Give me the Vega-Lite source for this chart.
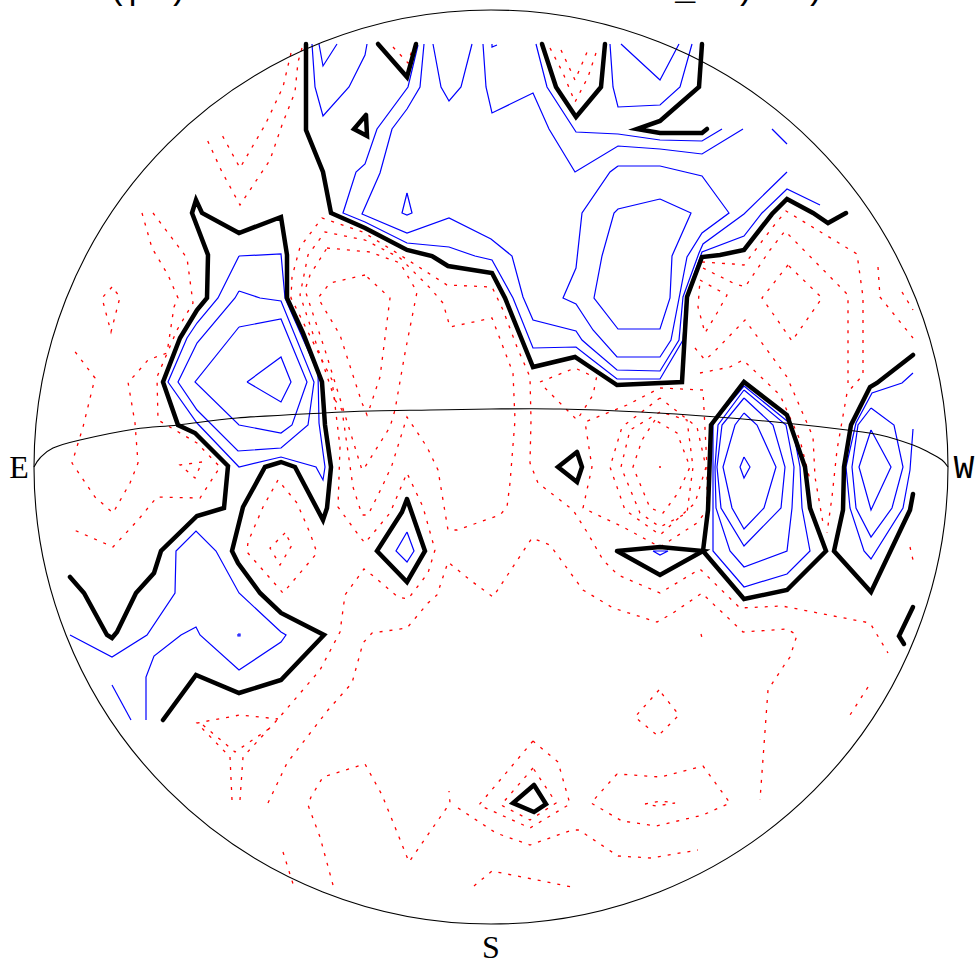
{"$schema":"https://vega.github.io/schema/vega-lite/v6.json","width":975,"height":962,"padding":0,"autosize":{"type":"none"},"background":"white","config":{"view":{"stroke":null}},
"datasets":{
"labels":[{"t":"E","x":19,"y":478},{"t":"S","x":491,"y":958}],
"monoLabels":[{"t":"W","x":964,"y":478},{"t":"(p","x":128,"y":-1},{"t":")","x":178,"y":-1},{"t":"/_","x":675,"y":-1},{"t":")","x":745,"y":-1},{"t":")","x":815,"y":-1}],
"centre":[{"x":491,"y":467}],
"arc":[{"x":34,"y":467},{"x":40,"y":458},{"x":53,"y":448},{"x":80,"y":440},{"x":135,"y":429},{"x":178,"y":425},{"x":237,"y":418},{"x":323,"y":413},{"x":370,"y":411},{"x":430,"y":410},{"x":491,"y":409},{"x":560,"y":409},{"x":640,"y":412},{"x":717,"y":417},{"x":785,"y":423},{"x":847,"y":430},{"x":880,"y":435},{"x":913,"y":445},{"x":930,"y":453},{"x":942,"y":460},{"x":948,"y":467}],
"zero":[
{"g":1,"x":306,"y":44},{"g":1,"x":306,"y":130},{"g":1,"x":323,"y":172},{"g":1,"x":331,"y":213},{"g":1,"x":365,"y":228},{"g":1,"x":407,"y":250},{"g":1,"x":432,"y":256},{"g":1,"x":448,"y":266},{"g":1,"x":492,"y":273},{"g":1,"x":505,"y":298},{"g":1,"x":522,"y":340},{"g":1,"x":533,"y":367},{"g":1,"x":575,"y":357},{"g":1,"x":590,"y":367},{"g":1,"x":617,"y":385},{"g":1,"x":682,"y":382},{"g":1,"x":687,"y":297},{"g":1,"x":702,"y":257},{"g":1,"x":720,"y":255},{"g":1,"x":744,"y":250},{"g":1,"x":772,"y":214},{"g":1,"x":787,"y":199},{"g":1,"x":813,"y":213},{"g":1,"x":828,"y":223},{"g":1,"x":846,"y":213},
{"g":2,"x":378,"y":44},{"g":2,"x":407,"y":77},{"g":2,"x":416,"y":44},
{"g":3,"x":542,"y":44},{"g":3,"x":556,"y":87},{"g":3,"x":576,"y":117},{"g":3,"x":601,"y":87},{"g":3,"x":605,"y":44},
{"g":4,"x":702,"y":44},{"g":4,"x":699,"y":87},{"g":4,"x":660,"y":121},{"g":4,"x":637,"y":129},{"g":4,"x":660,"y":133},{"g":4,"x":702,"y":133},{"g":4,"x":707,"y":129},
{"g":5,"x":366,"y":115},{"g":5,"x":354,"y":129},{"g":5,"x":367,"y":136},{"g":5,"x":366,"y":115},
{"g":6,"x":70,"y":577},{"g":6,"x":84,"y":593},{"g":6,"x":107,"y":635},{"g":6,"x":112,"y":638},{"g":6,"x":117,"y":632},{"g":6,"x":136,"y":593},{"g":6,"x":154,"y":573},{"g":6,"x":161,"y":551},{"g":6,"x":197,"y":516},{"g":6,"x":224,"y":508},{"g":6,"x":228,"y":466},{"g":6,"x":195,"y":433},{"g":6,"x":178,"y":425},{"g":6,"x":163,"y":382},{"g":6,"x":180,"y":338},{"g":6,"x":197,"y":310},{"g":6,"x":207,"y":298},{"g":6,"x":208,"y":255},{"g":6,"x":192,"y":213},{"g":6,"x":196,"y":200},{"g":6,"x":202,"y":213},{"g":6,"x":239,"y":233},{"g":6,"x":281,"y":217},{"g":6,"x":287,"y":255},{"g":6,"x":287,"y":298},{"g":6,"x":303,"y":333},{"g":6,"x":322,"y":382},{"g":6,"x":325,"y":425},{"g":6,"x":331,"y":467},{"g":6,"x":327,"y":508},{"g":6,"x":323,"y":520},{"g":6,"x":295,"y":467},{"g":6,"x":281,"y":462},{"g":6,"x":265,"y":467},{"g":6,"x":243,"y":507},{"g":6,"x":232,"y":551},{"g":6,"x":238,"y":563},{"g":6,"x":260,"y":593},{"g":6,"x":281,"y":613},{"g":6,"x":324,"y":635},{"g":6,"x":281,"y":680},{"g":6,"x":239,"y":693},{"g":6,"x":196,"y":675},{"g":6,"x":163,"y":720},
{"g":7,"x":407,"y":499},{"g":7,"x":402,"y":512},{"g":7,"x":377,"y":551},{"g":7,"x":407,"y":582},{"g":7,"x":425,"y":551},{"g":7,"x":407,"y":499},
{"g":8,"x":577,"y":452},{"g":8,"x":558,"y":467},{"g":8,"x":577,"y":482},{"g":8,"x":582,"y":467},{"g":8,"x":577,"y":452},
{"g":9,"x":617,"y":551},{"g":9,"x":660,"y":547},{"g":9,"x":703,"y":551},{"g":9,"x":660,"y":575},{"g":9,"x":617,"y":551},
{"g":10,"x":703,"y":551},{"g":10,"x":708,"y":510},{"g":10,"x":711,"y":425},{"g":10,"x":744,"y":382},{"g":10,"x":787,"y":415},{"g":10,"x":805,"y":467},{"g":10,"x":810,"y":508},{"g":10,"x":826,"y":551},{"g":10,"x":787,"y":590},{"g":10,"x":744,"y":599},{"g":10,"x":703,"y":551},
{"g":11,"x":913,"y":355},{"g":11,"x":877,"y":383},{"g":11,"x":870,"y":387},{"g":11,"x":851,"y":425},{"g":11,"x":844,"y":467},{"g":11,"x":843,"y":510},{"g":11,"x":834,"y":551},{"g":11,"x":871,"y":592},{"g":11,"x":910,"y":510},{"g":11,"x":913,"y":494},
{"g":12,"x":913,"y":607},{"g":12,"x":899,"y":636},{"g":12,"x":904,"y":644},
{"g":13,"x":534,"y":785},{"g":13,"x":513,"y":803},{"g":13,"x":534,"y":812},{"g":13,"x":546,"y":804},{"g":13,"x":534,"y":785}
],
"pos":[
{"g":1,"x":312,"y":44},{"g":1,"x":315,"y":87},{"g":1,"x":323,"y":116},{"g":1,"x":349,"y":87},{"g":1,"x":365,"y":55},{"g":1,"x":367,"y":44},
{"g":2,"x":319,"y":44},{"g":2,"x":323,"y":66},{"g":2,"x":337,"y":44},
{"g":3,"x":418,"y":45},{"g":3,"x":408,"y":87},{"g":3,"x":377,"y":129},{"g":3,"x":365,"y":164},{"g":3,"x":356,"y":172},{"g":3,"x":343,"y":213},{"g":3,"x":365,"y":222},{"g":3,"x":407,"y":243},{"g":3,"x":449,"y":247},{"g":3,"x":475,"y":256},{"g":3,"x":492,"y":260},{"g":3,"x":513,"y":298},{"g":3,"x":533,"y":348},{"g":3,"x":576,"y":347},{"g":3,"x":590,"y":358},{"g":3,"x":617,"y":379},{"g":3,"x":660,"y":379},{"g":3,"x":683,"y":340},{"g":3,"x":686,"y":297},{"g":3,"x":702,"y":252},{"g":3,"x":744,"y":236},{"g":3,"x":762,"y":213},{"g":3,"x":787,"y":189},{"g":3,"x":820,"y":205},
{"g":4,"x":424,"y":44},{"g":4,"x":420,"y":87},{"g":4,"x":407,"y":109},{"g":4,"x":392,"y":129},{"g":4,"x":380,"y":173},{"g":4,"x":362,"y":214},{"g":4,"x":407,"y":233},{"g":4,"x":449,"y":218},{"g":4,"x":491,"y":239},{"g":4,"x":512,"y":256},{"g":4,"x":523,"y":297},{"g":4,"x":533,"y":320},{"g":4,"x":576,"y":331},{"g":4,"x":582,"y":340},{"g":4,"x":590,"y":347},{"g":4,"x":617,"y":370},{"g":4,"x":660,"y":371},{"g":4,"x":679,"y":340},{"g":4,"x":683,"y":297},{"g":4,"x":699,"y":253},{"g":4,"x":703,"y":244},{"g":4,"x":744,"y":214},{"g":4,"x":787,"y":172},
{"g":5,"x":618,"y":166},{"g":5,"x":660,"y":166},{"g":5,"x":702,"y":176},{"g":5,"x":729,"y":213},{"g":5,"x":702,"y":233},{"g":5,"x":687,"y":257},{"g":5,"x":671,"y":340},{"g":5,"x":660,"y":357},{"g":5,"x":617,"y":357},{"g":5,"x":593,"y":330},{"g":5,"x":576,"y":304},{"g":5,"x":563,"y":298},{"g":5,"x":576,"y":268},{"g":5,"x":582,"y":213},{"g":5,"x":610,"y":172},{"g":5,"x":618,"y":166},
{"g":6,"x":660,"y":199},{"g":6,"x":691,"y":213},{"g":6,"x":672,"y":256},{"g":6,"x":670,"y":298},{"g":6,"x":660,"y":329},{"g":6,"x":618,"y":329},{"g":6,"x":594,"y":298},{"g":6,"x":602,"y":256},{"g":6,"x":614,"y":213},{"g":6,"x":618,"y":209},{"g":6,"x":660,"y":199},
{"g":7,"x":433,"y":44},{"g":7,"x":441,"y":87},{"g":7,"x":449,"y":101},{"g":7,"x":461,"y":87},{"g":7,"x":472,"y":44},
{"g":8,"x":483,"y":44},{"g":8,"x":486,"y":87},{"g":8,"x":492,"y":113},{"g":8,"x":533,"y":93},{"g":8,"x":549,"y":129},{"g":8,"x":575,"y":172},{"g":8,"x":618,"y":146},{"g":8,"x":660,"y":149},{"g":8,"x":702,"y":154},{"g":8,"x":743,"y":129},
{"g":9,"x":536,"y":44},{"g":9,"x":547,"y":87},{"g":9,"x":576,"y":132},{"g":9,"x":618,"y":134},{"g":9,"x":660,"y":140},{"g":9,"x":702,"y":141},{"g":9,"x":722,"y":129},
{"g":10,"x":492,"y":44},{"g":10,"x":492,"y":47},{"g":10,"x":497,"y":45},
{"g":11,"x":610,"y":44},{"g":11,"x":613,"y":87},{"g":11,"x":618,"y":107},{"g":11,"x":660,"y":105},{"g":11,"x":680,"y":87},{"g":11,"x":692,"y":44},
{"g":12,"x":621,"y":44},{"g":12,"x":660,"y":80},{"g":12,"x":679,"y":44},
{"g":13,"x":772,"y":129},{"g":13,"x":787,"y":144},
{"g":14,"x":407,"y":193},{"g":14,"x":402,"y":213},{"g":14,"x":407,"y":215},{"g":14,"x":412,"y":213},{"g":14,"x":407,"y":193},
{"g":15,"x":239,"y":256},{"g":15,"x":281,"y":254},{"g":15,"x":285,"y":298},{"g":15,"x":318,"y":373},{"g":15,"x":319,"y":423},{"g":15,"x":325,"y":467},{"g":15,"x":323,"y":480},{"g":15,"x":316,"y":467},{"g":15,"x":281,"y":457},{"g":15,"x":239,"y":467},{"g":15,"x":197,"y":423},{"g":15,"x":168,"y":382},{"g":15,"x":187,"y":338},{"g":15,"x":197,"y":323},{"g":15,"x":218,"y":298},{"g":15,"x":239,"y":256},
{"g":16,"x":239,"y":291},{"g":16,"x":260,"y":298},{"g":16,"x":281,"y":301},{"g":16,"x":314,"y":382},{"g":16,"x":308,"y":425},{"g":16,"x":281,"y":448},{"g":16,"x":238,"y":451},{"g":16,"x":197,"y":410},{"g":16,"x":178,"y":382},{"g":16,"x":197,"y":343},{"g":16,"x":235,"y":298},{"g":16,"x":239,"y":291},
{"g":17,"x":239,"y":327},{"g":17,"x":281,"y":319},{"g":17,"x":307,"y":382},{"g":17,"x":292,"y":425},{"g":17,"x":281,"y":433},{"g":17,"x":239,"y":425},{"g":17,"x":195,"y":382},{"g":17,"x":239,"y":327},
{"g":18,"x":247,"y":382},{"g":18,"x":281,"y":357},{"g":18,"x":291,"y":382},{"g":18,"x":281,"y":402},{"g":18,"x":247,"y":382},
{"g":19,"x":70,"y":635},{"g":19,"x":112,"y":657},{"g":19,"x":147,"y":635},{"g":19,"x":175,"y":593},{"g":19,"x":176,"y":551},{"g":19,"x":196,"y":531},{"g":19,"x":216,"y":551},{"g":19,"x":239,"y":593},{"g":19,"x":281,"y":632},{"g":19,"x":286,"y":635},{"g":19,"x":281,"y":642},{"g":19,"x":239,"y":670},{"g":19,"x":200,"y":635},{"g":19,"x":196,"y":627},{"g":19,"x":181,"y":635},{"g":19,"x":154,"y":656},{"g":19,"x":146,"y":677},{"g":19,"x":146,"y":720},
{"g":20,"x":112,"y":685},{"g":20,"x":131,"y":720},
{"g":21,"x":238,"y":634},{"g":21,"x":240,"y":634},{"g":21,"x":240,"y":636},{"g":21,"x":238,"y":636},{"g":21,"x":238,"y":634},
{"g":22,"x":407,"y":532},{"g":22,"x":396,"y":551},{"g":22,"x":407,"y":562},{"g":22,"x":414,"y":551},{"g":22,"x":407,"y":532},
{"g":23,"x":653,"y":551},{"g":23,"x":668,"y":551},{"g":23,"x":660,"y":555},{"g":23,"x":653,"y":551},
{"g":24,"x":744,"y":386},{"g":24,"x":713,"y":423},{"g":24,"x":713,"y":467},{"g":24,"x":713,"y":551},{"g":24,"x":744,"y":587},{"g":24,"x":787,"y":574},{"g":24,"x":810,"y":551},{"g":24,"x":802,"y":508},{"g":24,"x":800,"y":467},{"g":24,"x":792,"y":425},{"g":24,"x":744,"y":386},
{"g":25,"x":744,"y":390},{"g":25,"x":718,"y":425},{"g":25,"x":715,"y":467},{"g":25,"x":716,"y":508},{"g":25,"x":730,"y":551},{"g":25,"x":744,"y":567},{"g":25,"x":787,"y":551},{"g":25,"x":792,"y":508},{"g":25,"x":794,"y":467},{"g":25,"x":786,"y":425},{"g":25,"x":744,"y":390},
{"g":26,"x":744,"y":398},{"g":26,"x":722,"y":425},{"g":26,"x":717,"y":467},{"g":26,"x":721,"y":508},{"g":26,"x":744,"y":546},{"g":26,"x":781,"y":508},{"g":26,"x":785,"y":467},{"g":26,"x":773,"y":425},{"g":26,"x":744,"y":398},
{"g":27,"x":744,"y":413},{"g":27,"x":735,"y":425},{"g":27,"x":723,"y":467},{"g":27,"x":732,"y":508},{"g":27,"x":744,"y":529},{"g":27,"x":764,"y":508},{"g":27,"x":776,"y":467},{"g":27,"x":757,"y":425},{"g":27,"x":744,"y":413},
{"g":28,"x":744,"y":457},{"g":28,"x":740,"y":467},{"g":28,"x":744,"y":478},{"g":28,"x":750,"y":467},{"g":28,"x":744,"y":457},
{"g":29,"x":913,"y":373},{"g":29,"x":902,"y":383},{"g":29,"x":872,"y":393},{"g":29,"x":856,"y":423},{"g":29,"x":846,"y":467},{"g":29,"x":850,"y":508},{"g":29,"x":864,"y":551},{"g":29,"x":871,"y":559},{"g":29,"x":903,"y":508},{"g":29,"x":910,"y":470},{"g":29,"x":913,"y":429},
{"g":30,"x":871,"y":408},{"g":30,"x":894,"y":425},{"g":30,"x":903,"y":467},{"g":30,"x":892,"y":508},{"g":30,"x":871,"y":537},{"g":30,"x":856,"y":508},{"g":30,"x":852,"y":467},{"g":30,"x":858,"y":425},{"g":30,"x":871,"y":408},
{"g":31,"x":871,"y":430},{"g":31,"x":891,"y":467},{"g":31,"x":871,"y":510},{"g":31,"x":859,"y":467},{"g":31,"x":871,"y":430}
],
"neg":[
{"g":1,"x":302,"y":48},{"g":1,"x":298,"y":62},{"g":1,"x":295,"y":92},{"g":1,"x":282,"y":125},{"g":1,"x":270,"y":160},{"g":1,"x":240,"y":205},{"g":1,"x":222,"y":172},{"g":1,"x":205,"y":135},
{"g":2,"x":291,"y":53},{"g":2,"x":283,"y":87},{"g":2,"x":265,"y":125},{"g":2,"x":240,"y":168},{"g":2,"x":222,"y":135},
{"g":3,"x":393,"y":47},{"g":3,"x":408,"y":63},{"g":3,"x":413,"y":47},
{"g":4,"x":550,"y":48},{"g":4,"x":563,"y":73},{"g":4,"x":575,"y":102},{"g":4,"x":588,"y":77},{"g":4,"x":597,"y":50},
{"g":5,"x":561,"y":50},{"g":5,"x":575,"y":80},{"g":5,"x":588,"y":50},
{"g":6,"x":112,"y":287},{"g":6,"x":102,"y":298},{"g":6,"x":111,"y":332},{"g":6,"x":120,"y":297},{"g":6,"x":112,"y":287},
{"g":7,"x":142,"y":213},{"g":7,"x":152,"y":248},{"g":7,"x":168,"y":275},{"g":7,"x":178,"y":298},{"g":7,"x":174,"y":307},{"g":7,"x":167,"y":353},{"g":7,"x":148,"y":360},{"g":7,"x":135,"y":375},{"g":7,"x":128,"y":382},{"g":7,"x":135,"y":423},{"g":7,"x":138,"y":463},{"g":7,"x":130,"y":483},{"g":7,"x":113,"y":513},{"g":7,"x":95,"y":497},{"g":7,"x":72,"y":463},{"g":7,"x":83,"y":427},{"g":7,"x":95,"y":378},{"g":7,"x":73,"y":349},
{"g":8,"x":153,"y":213},{"g":8,"x":187,"y":258},{"g":8,"x":193,"y":303},{"g":8,"x":177,"y":330},{"g":8,"x":157,"y":377},{"g":8,"x":158,"y":420},{"g":8,"x":197,"y":443},{"g":8,"x":220,"y":467},{"g":8,"x":200,"y":498},{"g":8,"x":157,"y":497},{"g":8,"x":138,"y":520},{"g":8,"x":113,"y":547},{"g":8,"x":74,"y":530},
{"g":9,"x":202,"y":462},{"g":9,"x":180,"y":465},{"g":9,"x":195,"y":478},{"g":9,"x":202,"y":462},
{"g":10,"x":240,"y":800},{"g":10,"x":243,"y":757},{"g":10,"x":278,"y":719},{"g":10,"x":320,"y":670},{"g":10,"x":340,"y":632},{"g":10,"x":345,"y":595},{"g":10,"x":364,"y":569},{"g":10,"x":372,"y":575},{"g":10,"x":398,"y":597},{"g":10,"x":408,"y":599},{"g":10,"x":428,"y":573},{"g":10,"x":435,"y":550},{"g":10,"x":423,"y":507},{"g":10,"x":407,"y":473},{"g":10,"x":390,"y":513},{"g":10,"x":365,"y":543},{"g":10,"x":360,"y":537},{"g":10,"x":338,"y":507},{"g":10,"x":340,"y":447},{"g":10,"x":332,"y":380},{"g":10,"x":291,"y":298},{"g":10,"x":292,"y":277},{"g":10,"x":300,"y":247},{"g":10,"x":322,"y":218},{"g":10,"x":363,"y":232},{"g":10,"x":397,"y":253},{"g":10,"x":447,"y":285},{"g":10,"x":492,"y":287},{"g":10,"x":503,"y":310},{"g":10,"x":517,"y":347},{"g":10,"x":530,"y":377},{"g":10,"x":531,"y":420},{"g":10,"x":530,"y":463},{"g":10,"x":538,"y":483},{"g":10,"x":573,"y":510},{"g":10,"x":587,"y":532},{"g":10,"x":603,"y":560},{"g":10,"x":618,"y":575},{"g":10,"x":660,"y":593},{"g":10,"x":700,"y":569},{"g":10,"x":740,"y":608},{"g":10,"x":782,"y":606},{"g":10,"x":870,"y":623},{"g":10,"x":888,"y":653},
{"g":11,"x":232,"y":800},{"g":11,"x":230,"y":757},{"g":11,"x":197,"y":723},{"g":11,"x":240,"y":715},{"g":11,"x":278,"y":719},
{"g":12,"x":203,"y":725},{"g":12,"x":235,"y":752},{"g":12,"x":273,"y":726},
{"g":13,"x":268,"y":803},{"g":13,"x":287,"y":763},{"g":13,"x":328,"y":710},{"g":13,"x":352,"y":683},{"g":13,"x":363,"y":643},{"g":13,"x":372,"y":633},{"g":13,"x":407,"y":628},{"g":13,"x":428,"y":603},{"g":13,"x":437,"y":595},{"g":13,"x":448,"y":562},{"g":13,"x":470,"y":580},{"g":13,"x":493,"y":597},{"g":13,"x":532,"y":538},{"g":13,"x":550,"y":545},{"g":13,"x":583,"y":590},{"g":13,"x":613,"y":608},{"g":13,"x":657,"y":622},{"g":13,"x":673,"y":613},{"g":13,"x":702,"y":593},{"g":13,"x":708,"y":599},{"g":13,"x":743,"y":632},{"g":13,"x":787,"y":629},{"g":13,"x":797,"y":635},{"g":13,"x":790,"y":657},{"g":13,"x":783,"y":667},{"g":13,"x":768,"y":690},{"g":13,"x":760,"y":800},
{"g":14,"x":335,"y":400},{"g":14,"x":342,"y":410},{"g":14,"x":353,"y":487},{"g":14,"x":362,"y":515},{"g":14,"x":368,"y":515},{"g":14,"x":382,"y":487},{"g":14,"x":392,"y":465},{"g":14,"x":407,"y":417},{"g":14,"x":427,"y":447},{"g":14,"x":438,"y":470},{"g":14,"x":448,"y":530},{"g":14,"x":457,"y":530},{"g":14,"x":500,"y":515},{"g":14,"x":507,"y":507},{"g":14,"x":510,"y":483},{"g":14,"x":515,"y":420},{"g":14,"x":513,"y":373},{"g":14,"x":492,"y":318},{"g":14,"x":450,"y":327},{"g":14,"x":443,"y":303},{"g":14,"x":430,"y":288},{"g":14,"x":400,"y":258},{"g":14,"x":365,"y":240},{"g":14,"x":325,"y":232},{"g":14,"x":308,"y":255},{"g":14,"x":300,"y":295},{"g":14,"x":335,"y":400},
{"g":15,"x":365,"y":275},{"g":15,"x":330,"y":283},{"g":15,"x":318,"y":298},{"g":15,"x":340,"y":335},{"g":15,"x":348,"y":360},{"g":15,"x":362,"y":403},{"g":15,"x":367,"y":415},{"g":15,"x":370,"y":407},{"g":15,"x":380,"y":377},{"g":15,"x":390,"y":298},{"g":15,"x":365,"y":275},
{"g":16,"x":327,"y":248},{"g":16,"x":370,"y":252},{"g":16,"x":400,"y":263},{"g":16,"x":417,"y":292},{"g":16,"x":405,"y":353},{"g":16,"x":395,"y":410},{"g":16,"x":390,"y":427},{"g":16,"x":365,"y":467},{"g":16,"x":362,"y":470},{"g":16,"x":345,"y":415},{"g":16,"x":325,"y":350},{"g":16,"x":305,"y":290},{"g":16,"x":310,"y":275},{"g":16,"x":327,"y":248},
{"g":17,"x":285,"y":533},{"g":17,"x":270,"y":548},{"g":17,"x":280,"y":565},{"g":17,"x":292,"y":545},{"g":17,"x":285,"y":533},
{"g":18,"x":278,"y":480},{"g":18,"x":263,"y":507},{"g":18,"x":248,"y":542},{"g":18,"x":247,"y":552},{"g":18,"x":283,"y":593},{"g":18,"x":317,"y":553},{"g":18,"x":310,"y":533},{"g":18,"x":297,"y":503},{"g":18,"x":278,"y":480},
{"g":19,"x":702,"y":262},{"g":19,"x":733,"y":264},{"g":19,"x":744,"y":265},{"g":19,"x":772,"y":228},{"g":19,"x":786,"y":211},{"g":19,"x":857,"y":254},{"g":19,"x":863,"y":297},{"g":19,"x":863,"y":375},{"g":19,"x":847,"y":393},{"g":19,"x":837,"y":450},{"g":19,"x":832,"y":497},{"g":19,"x":827,"y":533},
{"g":20,"x":703,"y":268},{"g":20,"x":733,"y":283},{"g":20,"x":745,"y":287},{"g":20,"x":770,"y":250},{"g":20,"x":785,"y":231},{"g":20,"x":848,"y":295},{"g":20,"x":848,"y":383},
{"g":21,"x":700,"y":280},{"g":21,"x":727,"y":295},{"g":21,"x":717,"y":313},{"g":21,"x":705,"y":333},{"g":21,"x":698,"y":307},{"g":21,"x":700,"y":280},
{"g":22,"x":788,"y":265},{"g":22,"x":762,"y":298},{"g":22,"x":792,"y":341},{"g":22,"x":822,"y":298},{"g":22,"x":788,"y":265},
{"g":23,"x":695,"y":348},{"g":23,"x":705,"y":360},{"g":23,"x":713,"y":353},{"g":23,"x":745,"y":320},{"g":23,"x":787,"y":377},{"g":23,"x":797,"y":400},{"g":23,"x":813,"y":437},{"g":23,"x":815,"y":477},{"g":23,"x":823,"y":523},
{"g":24,"x":700,"y":373},{"g":24,"x":730,"y":367},{"g":24,"x":743,"y":360},{"g":24,"x":780,"y":395},{"g":24,"x":800,"y":440},{"g":24,"x":810,"y":480},
{"g":25,"x":878,"y":267},{"g":25,"x":880,"y":297},{"g":25,"x":913,"y":338},
{"g":26,"x":902,"y":292},{"g":26,"x":913,"y":310},
{"g":27,"x":703,"y":390},{"g":27,"x":660,"y":388},{"g":27,"x":627,"y":405},{"g":27,"x":585,"y":422},{"g":27,"x":592,"y":467},{"g":27,"x":583,"y":508},{"g":27,"x":623,"y":527},{"g":27,"x":660,"y":547},{"g":27,"x":697,"y":523},{"g":27,"x":707,"y":510},{"g":27,"x":707,"y":467},{"g":27,"x":703,"y":390},
{"g":28,"x":660,"y":398},{"g":28,"x":622,"y":427},{"g":28,"x":610,"y":467},{"g":28,"x":625,"y":510},{"g":28,"x":660,"y":535},{"g":28,"x":695,"y":503},{"g":28,"x":706,"y":467},{"g":28,"x":697,"y":427},{"g":28,"x":660,"y":398},
{"g":29,"x":660,"y":412},{"g":29,"x":630,"y":430},{"g":29,"x":621,"y":467},{"g":29,"x":640,"y":513},{"g":29,"x":660,"y":527},{"g":29,"x":687,"y":513},{"g":29,"x":693,"y":467},{"g":29,"x":687,"y":420},{"g":29,"x":660,"y":412},
{"g":30,"x":655,"y":420},{"g":30,"x":642,"y":440},{"g":30,"x":633,"y":467},{"g":30,"x":650,"y":508},{"g":30,"x":663,"y":513},{"g":30,"x":678,"y":493},{"g":30,"x":690,"y":467},{"g":30,"x":677,"y":433},{"g":30,"x":655,"y":420},
{"g":31,"x":659,"y":467},{"g":31,"x":661,"y":467},
{"g":32,"x":540,"y":382},{"g":32,"x":575,"y":368},{"g":32,"x":590,"y":375},
{"g":33,"x":545,"y":388},{"g":33,"x":577,"y":420},{"g":33,"x":593,"y":395},{"g":33,"x":597,"y":375},
{"g":34,"x":910,"y":547},{"g":34,"x":913,"y":560},
{"g":35,"x":659,"y":690},{"g":35,"x":635,"y":717},{"g":35,"x":658,"y":736},{"g":35,"x":679,"y":715},{"g":35,"x":659,"y":690},
{"g":36,"x":533,"y":741},{"g":36,"x":479,"y":805},{"g":36,"x":530,"y":828},{"g":36,"x":570,"y":804},{"g":36,"x":558,"y":762},{"g":36,"x":533,"y":741},
{"g":37,"x":533,"y":768},{"g":37,"x":501,"y":805},{"g":37,"x":530,"y":820},{"g":37,"x":556,"y":803},{"g":37,"x":551,"y":795},{"g":37,"x":533,"y":768},
{"g":38,"x":617,"y":774},{"g":38,"x":591,"y":803},{"g":38,"x":622,"y":821},{"g":38,"x":656,"y":826},{"g":38,"x":703,"y":815},{"g":38,"x":730,"y":803},{"g":38,"x":703,"y":766},{"g":38,"x":661,"y":777},{"g":38,"x":617,"y":774},
{"g":39,"x":645,"y":804},{"g":39,"x":661,"y":801},{"g":39,"x":675,"y":803},{"g":39,"x":656,"y":806},{"g":39,"x":645,"y":804},
{"g":40,"x":333,"y":885},{"g":40,"x":320,"y":837},{"g":40,"x":308,"y":805},{"g":40,"x":311,"y":797},{"g":40,"x":323,"y":777},{"g":40,"x":365,"y":764},{"g":40,"x":382,"y":795},{"g":40,"x":399,"y":837},{"g":40,"x":409,"y":862},{"g":40,"x":450,"y":803},{"g":40,"x":449,"y":791},
{"g":41,"x":283,"y":852},{"g":41,"x":294,"y":887},
{"g":42,"x":458,"y":808},{"g":42,"x":496,"y":833},{"g":42,"x":530,"y":845},{"g":42,"x":572,"y":830},{"g":42,"x":579,"y":830},{"g":42,"x":618,"y":856},{"g":42,"x":651,"y":858},{"g":42,"x":698,"y":850},
{"g":43,"x":474,"y":886},{"g":43,"x":492,"y":871},{"g":43,"x":572,"y":887},
{"g":44,"x":868,"y":687},{"g":44,"x":850,"y":715},
{"g":45,"x":701,"y":634},{"g":45,"x":702,"y":638}
]},
"layer":[
{"data":{"name":"neg"},"mark":{"type":"line","stroke":"#ff0000","strokeWidth":1.3,"strokeDash":[3,7]},"encoding":{"x":{"field":"x","type":"quantitative","scale":{"domain":[0,975]},"axis":null},"y":{"field":"y","type":"quantitative","scale":{"domain":[962,0]},"axis":null},"detail":{"field":"g"},"order":{"value":null}}},
{"data":{"name":"pos"},"mark":{"type":"line","stroke":"#0000ff","strokeWidth":1.2},"encoding":{"x":{"field":"x","type":"quantitative","scale":{"domain":[0,975]},"axis":null},"y":{"field":"y","type":"quantitative","scale":{"domain":[962,0]},"axis":null},"detail":{"field":"g"},"order":{"value":null}}},
{"data":{"name":"zero"},"mark":{"type":"line","stroke":"#000000","strokeWidth":4.5,"strokeCap":"round","strokeJoin":"miter"},"encoding":{"x":{"field":"x","type":"quantitative","scale":{"domain":[0,975]},"axis":null},"y":{"field":"y","type":"quantitative","scale":{"domain":[962,0]},"axis":null},"detail":{"field":"g"},"order":{"value":null}}},
{"data":{"name":"arc"},"mark":{"type":"line","stroke":"#000000","strokeWidth":1.1,"interpolate":"cardinal"},"encoding":{"x":{"field":"x","type":"quantitative","scale":{"domain":[0,975]},"axis":null},"y":{"field":"y","type":"quantitative","scale":{"domain":[962,0]},"axis":null},"order":{"value":null}}},
{"data":{"name":"centre"},"mark":{"type":"point","shape":"circle","filled":false,"stroke":"#000000","strokeWidth":1.1,"opacity":1,"size":835396},"encoding":{"x":{"field":"x","type":"quantitative","scale":{"domain":[0,975]},"axis":null},"y":{"field":"y","type":"quantitative","scale":{"domain":[962,0]},"axis":null}}},
{"data":{"name":"labels"},"mark":{"type":"text","font":"Liberation Serif","fontSize":32,"align":"center","baseline":"alphabetic","fill":"#000000"},"encoding":{"x":{"field":"x","type":"quantitative","scale":{"domain":[0,975]},"axis":null},"y":{"field":"y","type":"quantitative","scale":{"domain":[962,0]},"axis":null},"text":{"field":"t"}}},
{"data":{"name":"monoLabels"},"mark":{"type":"text","font":"Liberation Mono","fontSize":34,"align":"center","baseline":"alphabetic","fill":"#000000"},"encoding":{"x":{"field":"x","type":"quantitative","scale":{"domain":[0,975]},"axis":null},"y":{"field":"y","type":"quantitative","scale":{"domain":[962,0]},"axis":null},"text":{"field":"t"}}}
]}
